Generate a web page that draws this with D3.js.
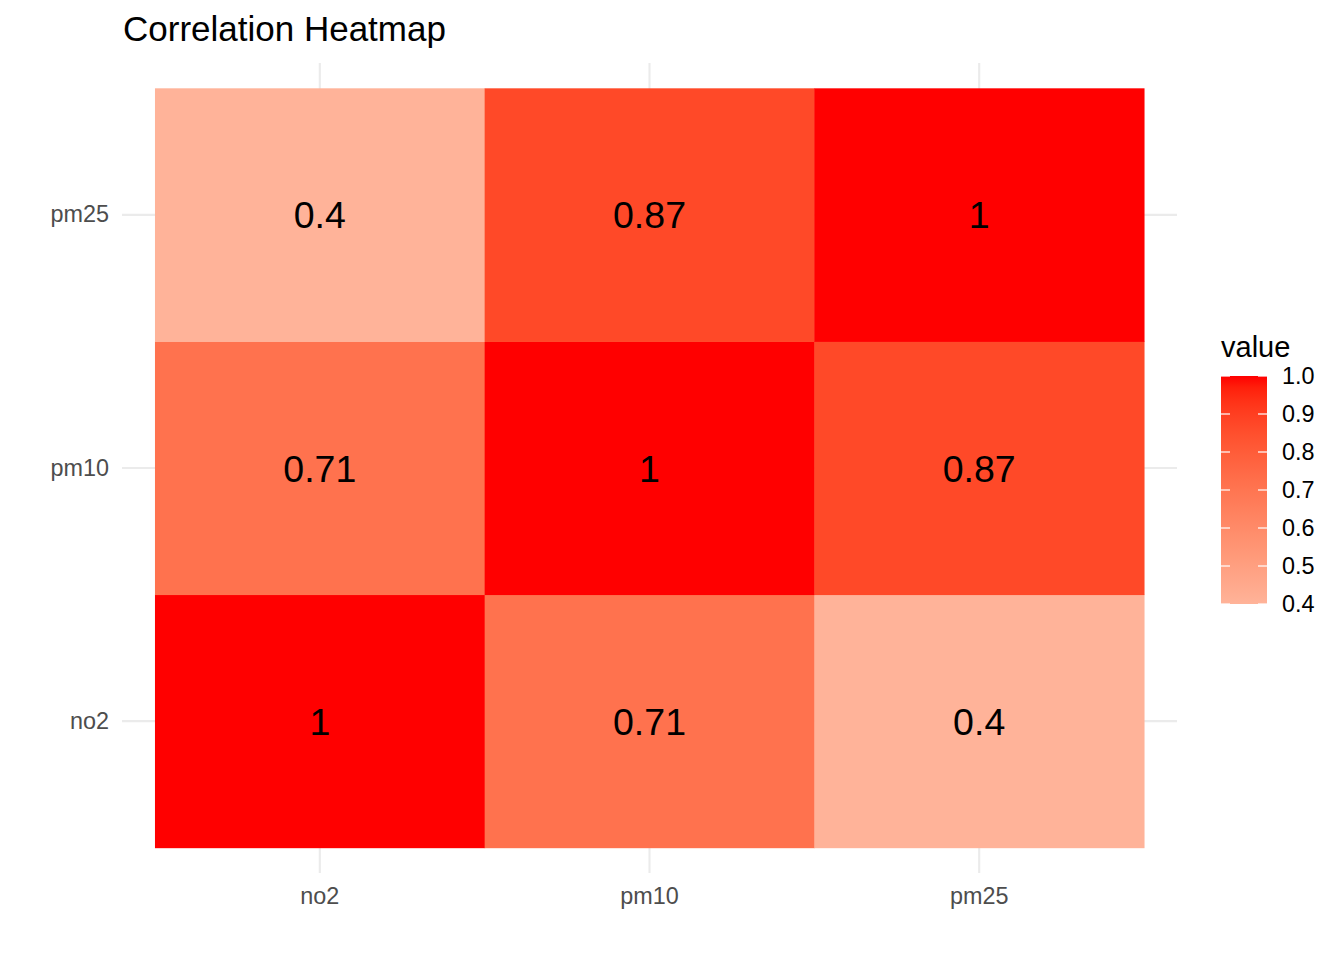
<!DOCTYPE html>
<html><head><meta charset="utf-8">
<script src="https://cdn.jsdelivr.net/npm/d3@7"></script>
<style>body{margin:0;background:#fff;} text{font-family:"Liberation Sans",Arial,sans-serif;}</style>
</head><body>
<svg id="chart" width="1344" height="960"></svg>
<script>
const xCategories = ["no2", "pm10", "pm25"];
const yCategories = ["no2", "pm10", "pm25"];
const corrValues = [
  [1, 0.71, 0.4],
  [0.71, 1, 0.87],
  [0.4, 0.87, 1]
];
const legendTicks = [0.4, 0.5, 0.6, 0.7, 0.8, 0.9, 1.0];
const titleText = "Correlation Heatmap";
const legendTitle = "value";

const cells = [];
yCategories.forEach((yc, i) => xCategories.forEach((xc, j) => cells.push({x: xc, y: yc, v: corrValues[i][j]})));

const svg = d3.select("#chart");
const panel = {left: 122, right: 1177, top: 63, bottom: 873};

const x = d3.scaleBand().domain(xCategories).range([panel.left, panel.right]).paddingOuter(0.1).paddingInner(0);
const y = d3.scaleBand().domain(yCategories).range([panel.bottom, panel.top]).paddingOuter(0.1).paddingInner(0);
const color = v => d3.interpolateLab("white", "red")(v);

// gridlines
const g = svg.append("g");
xCategories.forEach(c => g.append("line").attr("x1", x(c) + x.bandwidth()/2).attr("x2", x(c) + x.bandwidth()/2)
  .attr("y1", panel.top).attr("y2", panel.bottom).attr("stroke", "#EBEBEB").attr("stroke-width", 2.1));
yCategories.forEach(c => g.append("line").attr("y1", y(c) + y.bandwidth()/2).attr("y2", y(c) + y.bandwidth()/2)
  .attr("x1", panel.left).attr("x2", panel.right).attr("stroke", "#EBEBEB").attr("stroke-width", 2.1));

// tiles
svg.append("g").selectAll("rect").data(cells).join("rect")
  .attr("x", d => x(d.x)).attr("y", d => y(d.y))
  .attr("width", x.bandwidth() + 0.5).attr("height", y.bandwidth() + 0.5)
  .attr("fill", d => color(d.v));

svg.append("g").selectAll("text").data(cells).join("text")
  .attr("x", d => x(d.x) + x.bandwidth()/2).attr("y", d => y(d.y) + y.bandwidth()/2)
  .attr("text-anchor", "middle").attr("dy", "0.36em")
  .attr("font-size", 37.5).attr("fill", "#000")
  .text(d => d3.format("")(d.v));

// axes
const xAxis = svg.append("g").attr("transform", `translate(0,${panel.bottom})`)
  .call(d3.axisBottom(x).tickSize(0).tickPadding(14));
const yAxis = svg.append("g").attr("transform", `translate(${panel.left},0)`)
  .call(d3.axisLeft(y).tickSize(0).tickPadding(13));
[xAxis, yAxis].forEach(a => {
  a.select(".domain").remove();
  a.selectAll("text").attr("font-size", 23.4).attr("fill", "#4D4D4D").attr("font-family", "Liberation Sans, Arial, sans-serif");
});

// title
svg.append("text").attr("x", 123).attr("y", 41).attr("font-size", 35).attr("fill", "#000").text(titleText);

// legend
const lg = {x: 1221, w: 46, top: 376, bottom: 604};
const ly = d3.scaleLinear().domain([0.4, 1.0]).range([lg.bottom, lg.top]);
const defs = svg.append("defs");
const grad = defs.append("linearGradient").attr("id", "lgrad").attr("x1", 0).attr("y1", 1).attr("x2", 0).attr("y2", 0);
d3.range(0, 1.0001, 0.05).forEach(t => {
  const v = 0.4 + t * 0.6;
  grad.append("stop").attr("offset", t).attr("stop-color", color(v));
});
svg.append("text").attr("x", lg.x).attr("y", 357).attr("font-size", 29).attr("fill", "#000").text(legendTitle);
svg.append("rect").attr("x", lg.x).attr("y", lg.top).attr("width", lg.w).attr("height", lg.bottom - lg.top).attr("fill", "url(#lgrad)");
const lt = svg.append("g");
legendTicks.forEach(t => {
  const yy = ly(t);
  lt.append("line").attr("x1", lg.x).attr("x2", lg.x + 9).attr("y1", yy).attr("y2", yy).attr("stroke", "#fff").attr("stroke-width", 1.2);
  lt.append("line").attr("x1", lg.x + lg.w - 9).attr("x2", lg.x + lg.w).attr("y1", yy).attr("y2", yy).attr("stroke", "#fff").attr("stroke-width", 1.2);
  lt.append("text").attr("x", lg.x + lg.w + 15).attr("y", yy).attr("dy", "0.36em").attr("font-size", 23.4).attr("fill", "#000").text(d3.format(".1f")(t));
});
</script>
</body></html>
